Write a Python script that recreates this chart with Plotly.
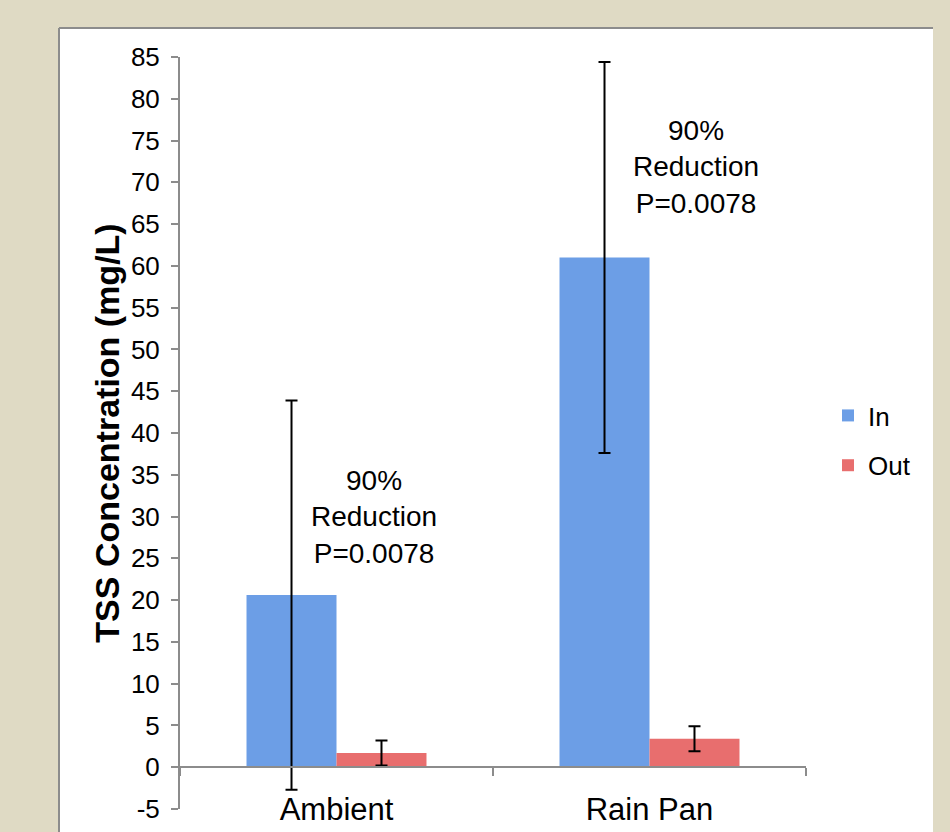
import plotly.graph_objects as go

# ---- data ----
categories = ["Ambient", "Rain Pan"]
series_names = ["In", "Out"]
in_values = [20.6, 61.0]
in_errors = [23.3, 23.4]
out_values = [1.7, 3.4]
out_errors = [1.5, 1.5]
y_tick_values = list(range(-5, 90, 5))
y_range = [-5, 85]
annotation_text = "90%<br>Reduction<br>P=0.0078"
annotation_x = [0.12, 1.15]
annotation_y = [29.9, 71.8]

# ---- styles ----
FONT = "Liberation Sans, Arial, sans-serif"
IN_COLOR = "#6c9ee6"
OUT_COLOR = "#e86e6e"
AXIS_GRAY = "#8c8c8c"
BEIGE = "#dfdac4"

W, H = 950, 832
L, R, T, B = 180, 144, 57, 23
plot_w = W - L - R
plot_h = H - T - B


def px_to_paper_x(px):
    return (px - L) / plot_w


def px_to_paper_y(py):
    return (H - B - py) / plot_h


fig = go.Figure()
fig.add_trace(go.Bar(
    x=categories, y=in_values, name=series_names[0],
    marker=dict(color=IN_COLOR, line=dict(width=0)),
    error_y=dict(type="data", array=in_errors, color="black", thickness=2, width=6),
    legendgroup="in",
))
fig.add_trace(go.Bar(
    x=categories, y=out_values, name=series_names[1],
    marker=dict(color=OUT_COLOR, line=dict(width=0)),
    error_y=dict(type="data", array=out_errors, color="black", thickness=2, width=6),
    legendgroup="out",
))

for ax, ay in zip(annotation_x, annotation_y):
    fig.add_annotation(x=ax, y=ay, xref="x", yref="y", text=annotation_text,
                       showarrow=False, font=dict(family=FONT, size=28, color="black"),
                       align="center")

# white panel with gray top/left border
panel_l, panel_r, panel_t, panel_b = 59, 933, 28, 845
fig.add_shape(type="rect", xref="paper", yref="paper",
              x0=px_to_paper_x(panel_l), x1=px_to_paper_x(panel_r),
              y0=px_to_paper_y(panel_b), y1=px_to_paper_y(panel_t),
              fillcolor="white", line=dict(width=0), layer="below")
fig.add_shape(type="line", xref="paper", yref="paper",
              x0=px_to_paper_x(panel_l), x1=px_to_paper_x(panel_r),
              y0=px_to_paper_y(panel_t), y1=px_to_paper_y(panel_t),
              line=dict(color=AXIS_GRAY, width=2), layer="below")
fig.add_shape(type="line", xref="paper", yref="paper",
              x0=px_to_paper_x(panel_l), x1=px_to_paper_x(panel_l),
              y0=px_to_paper_y(panel_b), y1=px_to_paper_y(panel_t),
              line=dict(color=AXIS_GRAY, width=2), layer="below")

fig.update_layout(
    width=W, height=H,
    margin=dict(l=L, r=R, t=T, b=B, autoexpand=False),
    paper_bgcolor=BEIGE, plot_bgcolor="white",
    font=dict(family=FONT, color="black"),
    barmode="group", bargap=0.425, bargroupgap=0,
    showlegend=True,
    legend=dict(x=px_to_paper_x(828), y=0.49, xanchor="left", yanchor="middle",
                font=dict(family=FONT, size=26, color="black"),
                bgcolor="rgba(0,0,0,0)", tracegroupgap=13, itemwidth=30),
)

fig.update_xaxes(
    anchor="free", position=(0 - y_range[0]) / (y_range[1] - y_range[0]),
    showline=True, linecolor=AXIS_GRAY, linewidth=2,
    ticks="outside", tickson="boundaries", ticklen=8, tickcolor=AXIS_GRAY, tickwidth=2,
    tickfont=dict(family=FONT, size=31, color="black"),
    ticklabelstandoff=15, showgrid=False, zeroline=False, automargin=False,
)
fig.update_yaxes(
    range=y_range, tickvals=y_tick_values, ticktext=[str(v) for v in y_tick_values],
    showline=True, linecolor=AXIS_GRAY, linewidth=2,
    ticks="outside", ticklen=7, tickcolor=AXIS_GRAY, tickwidth=2,
    tickfont=dict(family=FONT, size=26, color="black"),
    ticklabelstandoff=6,
    showgrid=False, zeroline=False, automargin=False,
    title=dict(text="<b>TSS Concentration (mg/L)</b>", standoff=1,
               font=dict(family=FONT, size=34, color="black")),
)

fig.write_html("out.html", config={"displayModeBar": False},
               post_script="document.body.style.margin='0';document.body.style.overflow='hidden';")
